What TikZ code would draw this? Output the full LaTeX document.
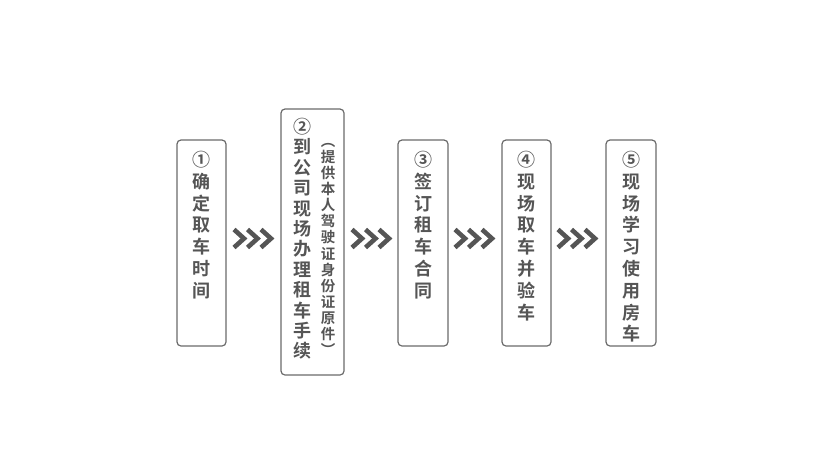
\documentclass[tikz,border=0pt]{standalone}
\usepackage{fontspec}
\newfontfamily\cjk{Noto Sans CJK SC}[BoldFont={Noto Sans CJK SC Bold}]
\definecolor{txt}{HTML}{555555}
\definecolor{frame}{HTML}{6A6A6A}
\begin{document}
\begin{tikzpicture}[x=1pt,y=-1pt]
\tikzset{
  stepbox/.style={draw=frame, line width=1.2pt, rounded corners=4pt},
  col/.style={anchor=north, align=center, inner sep=0pt, text=txt,
    font=\cjk\bfseries\fontsize{18}{21.8}\selectfont},
  tightcol/.style={col, font=\cjk\bfseries\fontsize{18}{20.4}\selectfont},
  sidecol/.style={anchor=north, align=center, inner sep=0pt, text=txt,
    font=\cjk\bfseries\fontsize{14.5}{16.1}\selectfont},
  chev/.style={draw=txt, line width=4.6pt, miter limit=10}
}
\useasboundingbox (0,0) rectangle (834,464);
% boxes
\draw[stepbox] (177,140) rectangle (226,346);
\draw[stepbox] (281,109) rectangle (344,375);
\draw[stepbox] (398,140) rectangle (448,346);
\draw[stepbox] (502,140) rectangle (551,346);
\draw[stepbox] (606,140) rectangle (656,346);
% texts
\node[col] (t1) at (201.5,151) {①\\确\\定\\取\\车\\时\\间};
\node[tightcol] (t2) at (302,118) {②\\到\\公\\司\\现\\场\\办\\理\\租\\车\\手\\续};
\node[sidecol] (t2b) at (328,143) {︵\\提\\供\\本\\人\\驾\\驶\\证\\身\\份\\证\\原\\件\\︶};
\node[col] (t3) at (423,151) {③\\签\\订\\租\\车\\合\\同};
\node[col] (t4) at (526.5,151) {④\\现\\场\\取\\车\\并\\验\\车};
\node[col] (t5) at (631,151) {⑤\\现\\场\\学\\习\\使\\用\\房\\车};
% chevrons
\foreach \x in {234,352,455,558}{
  \foreach \d in {0,13.5,27}{
    \draw[chev] (\x+\d,229.5) -- (\x+\d+10,238.5) -- (\x+\d,247.5);
  }
}
\end{tikzpicture}
\end{document}
